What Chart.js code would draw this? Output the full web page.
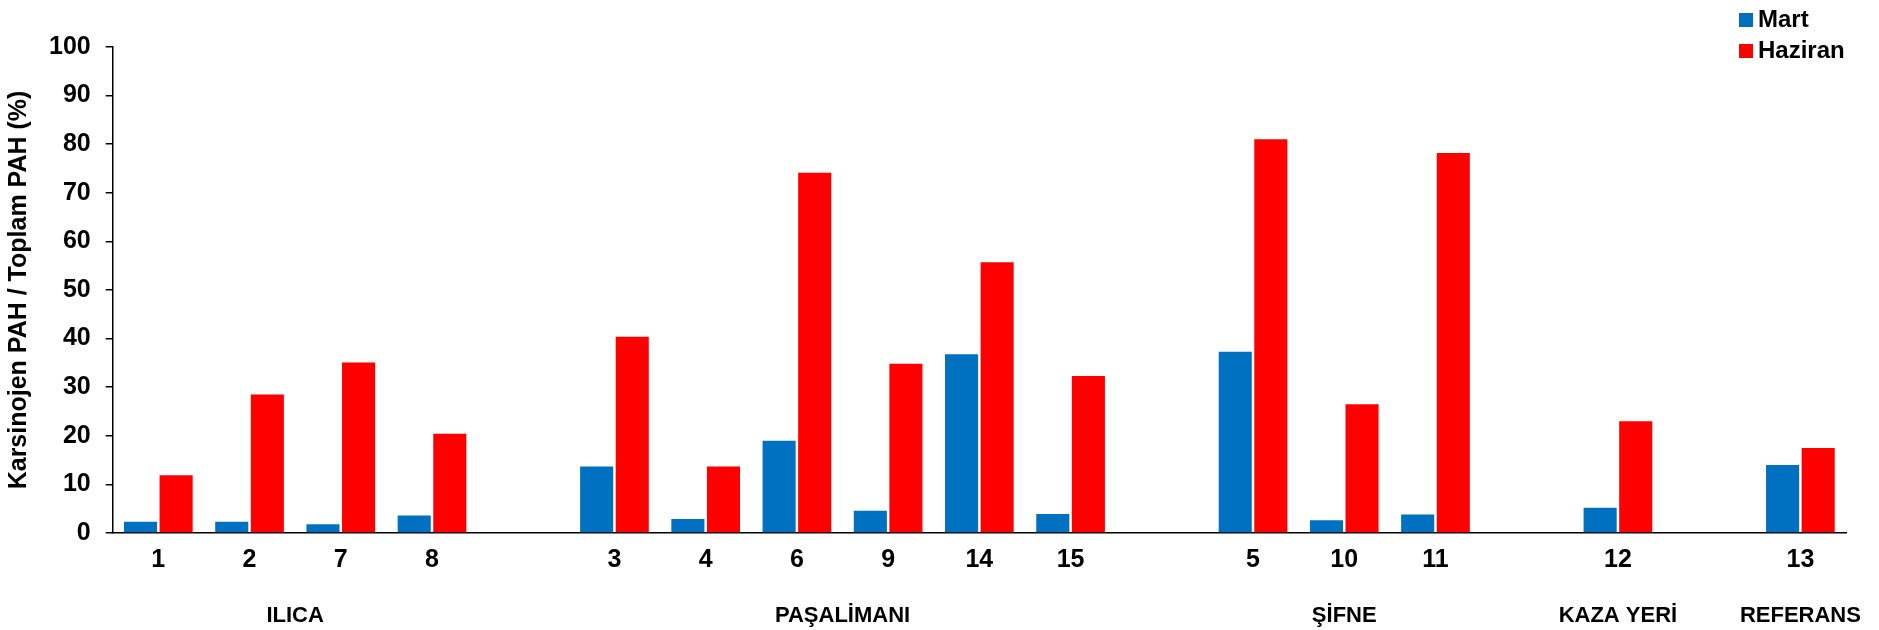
<!DOCTYPE html>
<html lang="tr">
<head>
<meta charset="utf-8">
<title>Karsinojen PAH / Toplam PAH (%)</title>
<script src="https://cdn.jsdelivr.net/npm/chart.js@4.4.1/dist/chart.umd.min.js"></script>
<style>
  html, body { margin: 0; padding: 0; background: #fff; }
  #wrap { position: relative; width: 1879px; height: 630px; }
</style>
</head>
<body>
<div id="wrap"><canvas id="pahChart"></canvas></div>
<script>
  const groupNames = ['ILICA', 'PAŞALİMANI', 'ŞİFNE', 'KAZA YERİ', 'REFERANS'];
  const groupStations = [
    ['1', '2', '7', '8'],
    ['3', '4', '6', '9', '14', '15'],
    ['5', '10', '11'],
    ['12'],
    ['13']
  ];
  const martValues = [
    [2.3, 2.3, 1.8, 3.6],
    [13.7, 2.9, 19.0, 4.6, 36.8, 3.9],
    [37.3, 2.6, 3.8],
    [5.2],
    [14.0]
  ];
  const haziranValues = [
    [11.9, 28.5, 35.1, 20.4],
    [40.4, 13.7, 74.1, 34.8, 55.7, 32.3],
    [81.0, 26.5, 78.2],
    [23.0],
    [17.5]
  ];
  const yTicks = [0, 10, 20, 30, 40, 50, 60, 70, 80, 90, 100];

  const fontFamily = "'Liberation Sans', Arial, sans-serif";

  // one category axis for all stations, with an empty slot between regions
  const labels = [];
  const mart = [];
  const haziran = [];
  const groupSpans = [];
  groupStations.forEach((stations, g) => {
    if (g > 0) {
      labels.push('');
      mart.push(null);
      haziran.push(null);
    }
    const first = labels.length;
    stations.forEach((s, i) => {
      labels.push(s);
      mart.push(martValues[g][i]);
      haziran.push(haziranValues[g][i]);
    });
    groupSpans.push({ name: groupNames[g], first: first, last: labels.length - 1 });
  });

  // region names under the station numbers
  const groupTitles = {
    id: 'groupTitles',
    afterDraw(chart, args, opts) {
      const x = chart.scales.x;
      const ctx = chart.ctx;
      ctx.save();
      ctx.font = 'bold ' + opts.size + 'px ' + fontFamily;
      ctx.fillStyle = '#000';
      ctx.textAlign = 'center';
      ctx.textBaseline = 'middle';
      groupSpans.forEach(g => {
        const cx = (x.getPixelForValue(g.first) + x.getPixelForValue(g.last)) / 2;
        ctx.fillText(g.name, cx, x.bottom + opts.offset);
      });
      ctx.restore();
    }
  };

  // small stacked key in the top right corner
  const seriesKey = {
    id: 'seriesKey',
    afterDraw(chart, args, opts) {
      const ctx = chart.ctx;
      ctx.save();
      ctx.font = 'bold ' + opts.size + 'px ' + fontFamily;
      ctx.textBaseline = 'middle';
      ctx.textAlign = 'left';
      chart.data.datasets.forEach((ds, i) => {
        const y = opts.top + i * opts.rowHeight;
        ctx.fillStyle = ds.backgroundColor;
        ctx.fillRect(opts.left, y - opts.box / 2, opts.box, opts.box);
        ctx.fillStyle = '#000';
        ctx.fillText(ds.label, opts.left + opts.box + opts.gap, y);
      });
      ctx.restore();
    }
  };

  Chart.defaults.font.family = fontFamily;
  Chart.defaults.color = '#000';

  new Chart(document.getElementById('pahChart'), {
    type: 'bar',
    data: {
      labels: labels,
      datasets: [
        {
          label: 'Mart',
          data: mart,
          backgroundColor: '#0070C0',
          barPercentage: 0.93,
          categoryPercentage: 0.78
        },
        {
          label: 'Haziran',
          data: haziran,
          backgroundColor: '#FF0000',
          barPercentage: 0.93,
          categoryPercentage: 0.78
        }
      ]
    },
    options: {
      responsive: true,
      maintainAspectRatio: false,
      animation: false,
      layout: {
        padding: { left: 0, right: 33, top: 47, bottom: 43 }
      },
      scales: {
        x: {
          grid: { display: false, drawTicks: false },
          border: { display: true, color: '#000', width: 1.5 },
          ticks: {
            autoSkip: false,
            maxRotation: 0,
            padding: 12,
            font: { size: 25, weight: 'bold' }
          }
        },
        y: {
          min: 0,
          max: 100,
          afterBuildTicks: axis => {
            axis.ticks = yTicks.map(v => ({ value: v }));
          },
          grid: {
            drawOnChartArea: false,
            drawTicks: true,
            tickLength: 7,
            color: '#000',
            lineWidth: 1.5
          },
          border: { display: true, color: '#000', width: 1.5 },
          ticks: {
            padding: 15,
            font: { size: 25, weight: 'bold' }
          },
          title: {
            display: true,
            text: 'Karsinojen PAH / Toplam PAH (%)',
            padding: { top: 4, bottom: 0 },
            font: { size: 25, weight: 'bold' }
          }
        }
      },
      plugins: {
        legend: { display: false },
        tooltip: { enabled: false },
        groupTitles: { size: 22, offset: 29 },
        seriesKey: { left: 1739, top: 20, rowHeight: 31, box: 14, gap: 5, size: 24 }
      }
    },
    plugins: [groupTitles, seriesKey]
  });
</script>
</body>
</html>
